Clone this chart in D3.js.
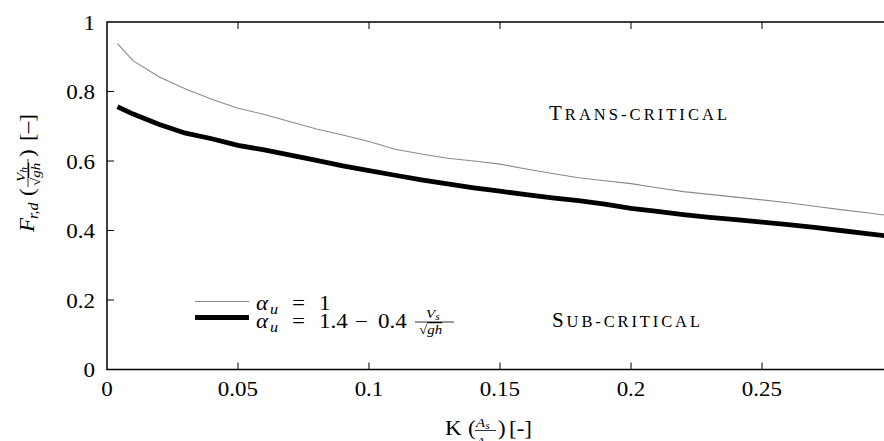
<!DOCTYPE html>
<html>
<head>
<meta charset="utf-8">
<script src="https://cdn.jsdelivr.net/npm/d3@7"></script>
<style>
  html, body { margin: 0; padding: 0; background: #fff; }
  svg { display: block; }
</style>
</head>
<body>
<svg id="chart" width="884" height="441" font-family="'Liberation Serif', 'DejaVu Serif', serif"></svg>
<script>
// Dimensionless opening ratio K = As/Ac
const kValues = [0.004, 0.01, 0.02, 0.03, 0.04, 0.05, 0.06, 0.07, 0.08, 0.09, 0.10,
  0.11, 0.12, 0.13, 0.14, 0.15, 0.16, 0.17, 0.18, 0.19, 0.20,
  0.21, 0.22, 0.23, 0.24, 0.25, 0.26, 0.27, 0.28, 0.29, 0.30];
// Critical Froude number for alpha_u = 1
const frAlphaOne = [0.938, 0.888, 0.842, 0.807, 0.778, 0.752, 0.734, 0.713, 0.692, 0.675, 0.656,
  0.634, 0.620, 0.608, 0.600, 0.591, 0.577, 0.564, 0.552, 0.543, 0.535,
  0.523, 0.512, 0.504, 0.496, 0.488, 0.480, 0.470, 0.460, 0.451, 0.441];
// Critical Froude number for alpha_u = 1.4 - 0.4 Vs/sqrt(gh)
const frAlphaVar = [0.756, 0.735, 0.705, 0.680, 0.664, 0.645, 0.632, 0.617, 0.602, 0.586, 0.572,
  0.559, 0.546, 0.534, 0.523, 0.513, 0.503, 0.494, 0.486, 0.476, 0.464,
  0.455, 0.446, 0.438, 0.431, 0.424, 0.417, 0.409, 0.400, 0.391, 0.382];
const xTicks = [0, 0.05, 0.1, 0.15, 0.2, 0.25];
const xTickLabels = ["0", "0.05", "0.1", "0.15", "0.2", "0.25"];
const yTicks = [0, 0.2, 0.4, 0.6, 0.8, 1];
const yTickLabels = ["0", "0.2", "0.4", "0.6", "0.8", "1"];

const svg = d3.select("#chart");
const plotLeft = 107, plotTop = 22, plotBottom = 369.5;
const x = d3.scaleLinear().domain([0, 0.3]).range([plotLeft, plotLeft + 0.3 * 2620]);
const y = d3.scaleLinear().domain([0, 1]).range([plotBottom, plotTop]);

// text helper: glyphs slightly widened to mimic the wide TeX face
const SX = 1.15;
function txt(parent, xPos, yPos, size, str, opts = {}) {
  const t = parent.append("text")
    .attr("transform", `translate(${xPos},${yPos}) scale(${SX},1)`)
    .attr("font-size", size);
  if (opts.anchor) t.attr("text-anchor", opts.anchor);
  if (opts.italic) t.attr("font-style", "italic");
  if (opts.html) t.html(str); else t.text(str);
  return t;
}

// curves
const line = d3.line().x((d, i) => x(kValues[i])).y(d => y(d));
svg.append("path").datum(frAlphaOne).attr("d", line)
  .attr("fill", "none").attr("stroke", "#8a8a8a").attr("stroke-width", 1.1);
svg.append("path").datum(frAlphaVar).attr("d", line)
  .attr("fill", "none").attr("stroke", "#000").attr("stroke-width", 4.8)
  .attr("stroke-linejoin", "round");

// frame
svg.append("rect").attr("x", x(0)).attr("y", y(1))
  .attr("width", x(0.3) - x(0)).attr("height", y(0) - y(1))
  .attr("fill", "none").attr("stroke", "#000").attr("stroke-width", 1.5);

// inward ticks
const tickLen = 7;
const gx = svg.append("g");
xTicks.slice(1).forEach(t => {
  gx.append("line").attr("x1", x(t)).attr("x2", x(t)).attr("y1", y(0)).attr("y2", y(0) - tickLen)
    .attr("stroke", "#000").attr("stroke-width", 1);
  gx.append("line").attr("x1", x(t)).attr("x2", x(t)).attr("y1", y(1)).attr("y2", y(1) + tickLen)
    .attr("stroke", "#000").attr("stroke-width", 1);
});
yTicks.slice(1, -1).forEach(t => {
  gx.append("line").attr("x1", x(0)).attr("x2", x(0) + tickLen).attr("y1", y(t)).attr("y2", y(t))
    .attr("stroke", "#000").attr("stroke-width", 1);
});

// tick labels
const fs = 20;
xTicks.forEach((t, i) => txt(svg, x(t), 396, fs, xTickLabels[i], { anchor: "middle" }));
yTicks.forEach((t, i) => txt(svg, 95, y(t) + 7.5, fs, yTickLabels[i], { anchor: "end" }));

// x-axis label: K (As/Ac) [-]
const xl = svg.append("g").attr("transform", "translate(445,435)");
txt(xl, 0, 0, fs, "K");
txt(xl, 23, 0, fs, "(");
txt(xl, 31, -8, 13, 'A<tspan font-size="10" dy="2" font-style="italic">s</tspan>', { italic: true, html: true });
xl.append("line").attr("x1", 30).attr("x2", 51).attr("y1", -4.5).attr("y2", -4.5)
  .attr("stroke", "#000").attr("stroke-width", 0.8);
txt(xl, 31, 11, 13, 'A<tspan font-size="10" dy="2" font-style="italic">c</tspan>', { italic: true, html: true });
txt(xl, 53, 0, fs, ")");
txt(xl, 64, 0, fs, "[-]");

// y-axis label: F_{r,d} (Vh / sqrt(gh)) [–]
const yl = svg.append("g").attr("transform", "translate(34,232) rotate(-90)");
txt(yl, 0, 0, fs, "F", { italic: true });
txt(yl, 13, 4, 14, "r,d", { italic: true });
txt(yl, 36, 0, fs, "(");
txt(yl, 50, -9, 13, 'V<tspan font-size="10" dy="2">h</tspan>', { italic: true, html: true });
yl.append("line").attr("x1", 45).attr("x2", 73).attr("y1", -6).attr("y2", -6)
  .attr("stroke", "#000").attr("stroke-width", 0.8);
txt(yl, 46, 6, 13, '\u221A<tspan font-style="italic" text-decoration="overline">gh</tspan>', { html: true });
txt(yl, 75, 0, fs, ")");
txt(yl, 91, 0, fs, "[\u2013]");

// region annotations, set in small capitals
function smallCaps(xPos, yPos, first, rest, width) {
  svg.append("text").attr("x", xPos).attr("y", yPos).attr("font-size", 21)
    .attr("textLength", width).attr("lengthAdjust", "spacing")
    .html(`${first}<tspan font-size="16.5">${rest}</tspan>`);
}
smallCaps(549, 120, "T", "RANS-CRITICAL", 178);
smallCaps(552, 327, "S", "UB-CRITICAL", 148);

// legend
const lg = svg.append("g");
lg.append("line").attr("x1", 195).attr("x2", 249).attr("y1", 301.5).attr("y2", 301.5)
  .attr("stroke", "#8a8a8a").attr("stroke-width", 1.1);
lg.append("line").attr("x1", 195).attr("x2", 249).attr("y1", 317.5).attr("y2", 317.5)
  .attr("stroke", "#000").attr("stroke-width", 4.8);
function alphaU(yPos) {
  txt(lg, 256, yPos, fs, "α", { italic: true });
  txt(lg, 270, yPos + 4, 14, "u", { italic: true });
  txt(lg, 292, yPos, fs, "=");
}
alphaU(310);
txt(lg, 319, 310, fs, "1");
alphaU(328);
txt(lg, 319, 328, fs, "1.4");
txt(lg, 355, 328, fs, "−");
txt(lg, 378, 328, fs, "0.4");
txt(lg, 426, 318, 13, 'V<tspan font-size="10" dy="2">s</tspan>', { italic: true, html: true });
lg.append("line").attr("x1", 415).attr("x2", 454).attr("y1", 322).attr("y2", 322)
  .attr("stroke", "#000").attr("stroke-width", 0.8);
txt(lg, 419, 334, 13, '\u221A<tspan font-style="italic" text-decoration="overline">gh</tspan>', { html: true });
</script>
</body>
</html>
